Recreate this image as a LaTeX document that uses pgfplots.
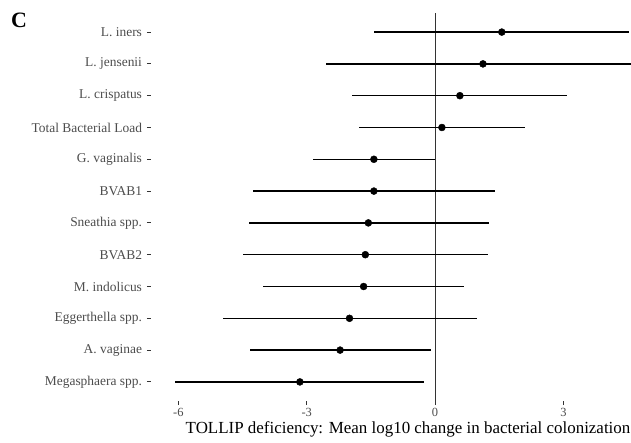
\documentclass[border=0pt]{standalone}
\usepackage{fontspec}
\setmainfont{Liberation Serif}
\usepackage{pgfplots}
\usepackage{pgfplotstable}
\pgfplotsset{compat=1.18}
\definecolor{txtgrey}{gray}{0.3}
\definecolor{tickgrey}{gray}{0.2}

% mean and 95% CI, bottom row = 1
\pgfplotstableread{
y x lo hi
12 1.56 -1.42 4.53
11 1.12 -2.54 4.90
10 0.58 -1.94 3.09
9 0.16 -1.77 2.10
8 -1.43 -2.86 0.00
7 -1.43 -4.25 1.39
6 -1.56 -4.36 1.27
5 -1.63 -4.48 1.23
4 -1.67 -4.02 0.67
3 -2.00 -4.96 0.97
2 -2.22 -4.33 -0.10
1 -3.16 -6.07 -0.27
}\cidata

\begin{document}
\begin{tikzpicture}
\path[use as bounding box] (0,0) rectangle (631bp,443bp);
\node[font=\fontsize{22}{24}\selectfont\bfseries] at (19bp,423bp) {C};
\begin{axis}[
    at={(151bp,42bp)}, anchor=south west,
    scale only axis,
    width=480bp, height=388bp,
    xmin=-6.64, xmax=4.58,
    ymin=0.4, ymax=12.6,
    axis line style={draw=none},
    tick align=outside,
    xtick pos=bottom, ytick pos=left,
    major tick length=4bp,
    tick style={tickgrey, line width=0.9bp},
    xtick={-6,-3,0,3},
    ytick={1,...,12},
    yticklabels={Megasphaera spp., A. vaginae, Eggerthella spp., M. indolicus, BVAB2, Sneathia spp., BVAB1, G. vaginalis, Total Bacterial Load, L. crispatus, L. jensenii, L. iners},
    ticklabel style={txtgrey},
    yticklabel style={font=\fontsize{13.5}{15}\selectfont, xshift=-1.5bp},
    xticklabel style={font=\fontsize{12.5}{14}\selectfont},
    /pgf/number format/assume math mode=true,
]
\addplot[black!80, line width=0.6bp] coordinates {(0,0.4) (0,12.6)};
\addplot[only marks, mark=*, mark size=3.5bp, black,
    error bars/.cd, x dir=both, x explicit, error mark=none,
    error bar style={line width=1.5bp}]
    table[x=x, y=y,
      x error plus expr=\thisrow{hi}-\thisrow{x},
      x error minus expr=\thisrow{x}-\thisrow{lo}] {\cidata};
\end{axis}
\node[anchor=base, font=\fontsize{17}{19}\selectfont] at (408bp,10bp)
  {TOLLIP deficiency: Mean log10 change in bacterial colonization};
\end{tikzpicture}
\end{document}
